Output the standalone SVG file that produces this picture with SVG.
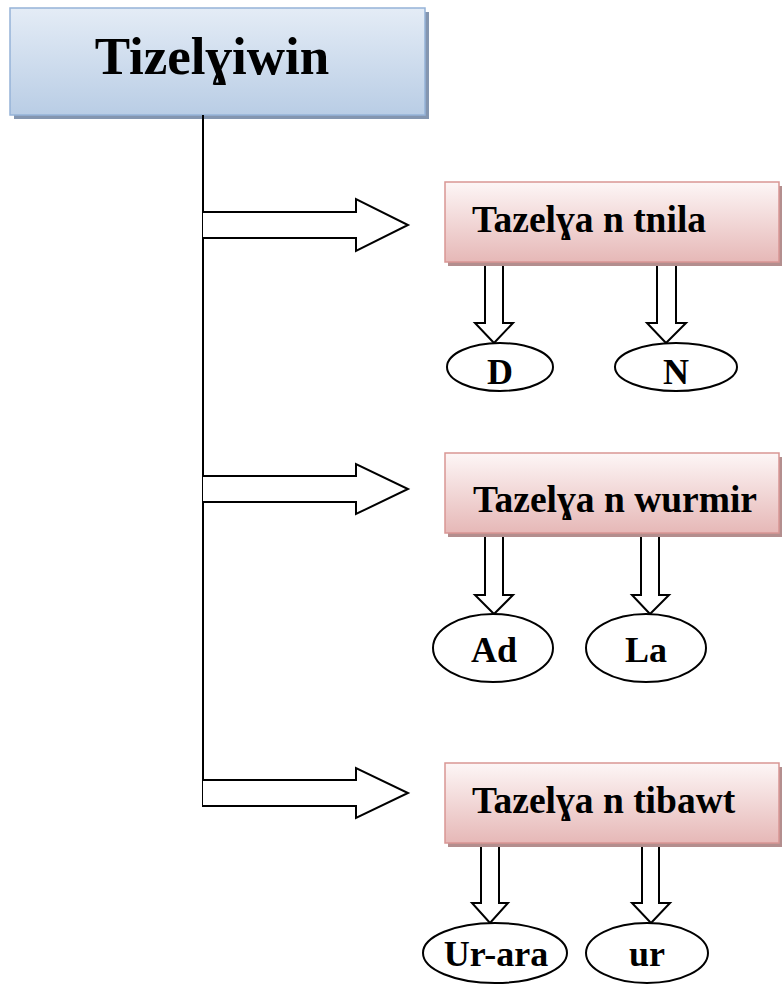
<svg xmlns="http://www.w3.org/2000/svg" width="782" height="985" viewBox="0 0 782 985">
<defs>
<linearGradient id="gBlue" x1="0" y1="0" x2="0" y2="1"><stop offset="0" stop-color="#e4ecf6"/><stop offset="1" stop-color="#b9cde5"/></linearGradient>
<linearGradient id="gPink" x1="0" y1="0" x2="0" y2="1"><stop offset="0" stop-color="#fdf6f6"/><stop offset="1" stop-color="#e6b8b7"/></linearGradient>
</defs>
<style>
text{font-family:"Liberation Serif","Times New Roman",serif;font-weight:bold;fill:#000}
.title{font-size:53px}
.lbl{font-size:37.5px}
.leaf{font-size:36px}
.arrow{fill:#fff;stroke:#000;stroke-width:2;stroke-linejoin:miter}
.ell{fill:#fff;stroke:#000;stroke-width:2}
.pbox{fill:url(#gPink);stroke:#d99694;stroke-width:1.5}
.pshadow{fill:#b38e8e}
</style>
<g id="root">
<rect x="14" y="12" width="415" height="107" fill="#8496b0"/>
<rect x="10" y="8" width="415" height="107" fill="url(#gBlue)" stroke="#95b3d7" stroke-width="1.5"/>
<text class="title" x="212" y="74" text-anchor="middle">Tizelɣiwin</text>
</g>
<g id="connectors">
<line x1="203" y1="115" x2="203" y2="807" stroke="#000" stroke-width="2"/>
<polyline class="arrow" points="203,212 356,212 356,199 408,225 356,251 356,238 203,238"/>
<polyline class="arrow" points="203,476 356,476 356,464 408,489 356,514 356,502 203,502"/>
<polyline class="arrow" points="203,780 356,780 356,768 408,793 356,818 356,806 203,806"/>
<polygon class="arrow" points="485,262 503,262 503,323 513,323 494,343 475,323 485,323"/>
<polygon class="arrow" points="657,262 676,262 676,323 686,323 666,343 647,323 657,323"/>
<polygon class="arrow" points="485,533 503,533 503,595 513,595 494,614 475,595 485,595"/>
<polygon class="arrow" points="641,533 659,533 659,595 669,595 650,614 632,595 641,595"/>
<polygon class="arrow" points="481,843 499,843 499,903 508,903 490,923 472,903 481,903"/>
<polygon class="arrow" points="642,843 659,843 659,903 670,903 651,923 632,903 642,903"/>
</g>
<g id="box1">
<rect class="pshadow" x="448" y="186" width="334" height="80"/>
<rect class="pbox" x="445" y="182" width="334" height="80"/>
<text class="lbl" x="472" y="232">Tazelɣa n tnila</text>
</g>
<g id="box2">
<rect class="pshadow" x="448" y="457" width="334" height="80"/>
<rect class="pbox" x="445" y="453" width="334" height="80"/>
<text class="lbl" x="473" y="512">Tazelɣa n wurmir</text>
</g>
<g id="box3">
<rect class="pshadow" x="448" y="767" width="334" height="80"/>
<rect class="pbox" x="445" y="763" width="334" height="80"/>
<text class="lbl" x="472" y="813">Tazelɣa n tibawt</text>
</g>
<g id="leafD"><ellipse class="ell" cx="500" cy="367" rx="53" ry="24"/><text class="leaf" x="500" y="384" text-anchor="middle">D</text></g>
<g id="leafN"><ellipse class="ell" cx="676" cy="367" rx="61" ry="24"/><text class="leaf" x="676" y="384" text-anchor="middle">N</text></g>
<g id="leafAd"><ellipse class="ell" cx="493" cy="648" rx="60" ry="34"/><text class="leaf" x="494" y="662" text-anchor="middle">Ad</text></g>
<g id="leafLa"><ellipse class="ell" cx="646" cy="648" rx="60" ry="34"/><text class="leaf" x="646" y="662" text-anchor="middle">La</text></g>
<g id="leafUrara"><ellipse class="ell" cx="495" cy="953" rx="72" ry="30"/><text class="leaf" x="496" y="966" text-anchor="middle">Ur-ara</text></g>
<g id="leafUr"><ellipse class="ell" cx="647" cy="953" rx="61" ry="30"/><text class="leaf" x="647" y="966" text-anchor="middle">ur</text></g>
</svg>
